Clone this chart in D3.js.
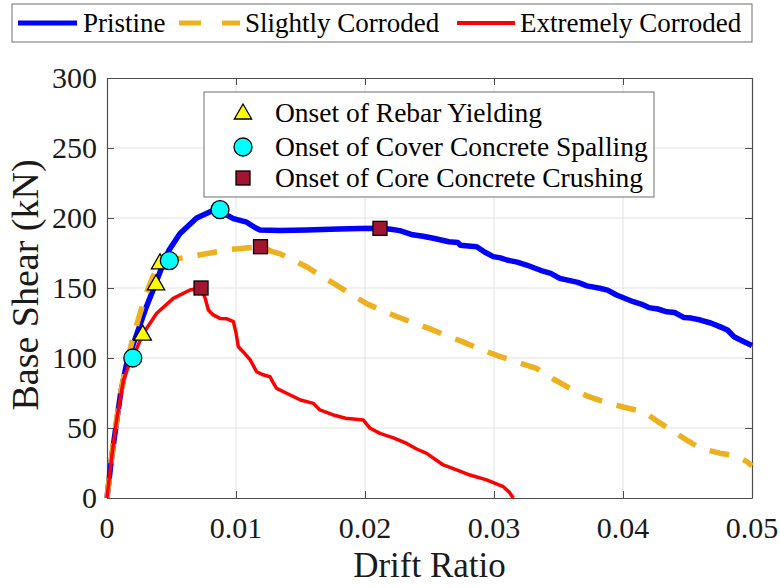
<!DOCTYPE html>
<html>
<head>
<meta charset="utf-8">
<script src="https://cdn.jsdelivr.net/npm/d3@7"></script>
<style>
  html, body { margin: 0; padding: 0; background: #fff; }
  svg { display: block; font-family: "Liberation Serif", "Times New Roman", serif; }
</style>
</head>
<body>
<svg id="chart" width="780" height="588"></svg>
<script>
// ---------- data ----------
const xTicks = [0, 0.01, 0.02, 0.03, 0.04, 0.05];
const xTickLabels = ["0", "0.01", "0.02", "0.03", "0.04", "0.05"];
const yTicks = [0, 50, 100, 150, 200, 250, 300];
const yTickLabels = ["0", "50", "100", "150", "200", "250", "300"];

const seriesNames = ["Pristine", "Slightly Corroded", "Extremely Corroded"];

const pristineDrift = [0, 0.00035, 0.00075, 0.00106, 0.0015, 0.00204, 0.0025, 0.00307, 0.0038, 0.0043, 0.0048, 0.00566, 0.00695, 0.0080, 0.00876, 0.0093, 0.0098, 0.01083, 0.0115, 0.01186, 0.0134, 0.0155, 0.0173, 0.0195, 0.02116, 0.0220, 0.0227, 0.0237, 0.0245, 0.0253, 0.0265, 0.0272, 0.0274, 0.0280, 0.02866, 0.0293, 0.02995, 0.0305, 0.0310, 0.0318, 0.03253, 0.0338, 0.0344, 0.0351, 0.0365, 0.0372, 0.0382, 0.0388, 0.0395, 0.0408, 0.0414, 0.0420, 0.0427, 0.0434, 0.0440, 0.0447, 0.0453, 0.0460, 0.0468, 0.0475, 0.0481, 0.0486, 0.0493, 0.0500];
const pristineShear = [0, 28, 55, 75, 95, 110, 122, 137, 154, 166, 177, 189, 200, 204.5, 206, 202, 199.5, 197, 193, 191.4, 191, 191.5, 192, 192.5, 192.6, 192, 191, 188, 187, 185.5, 183, 182.5, 180.5, 180, 179.5, 175.5, 172.4, 171.5, 170, 168.5, 166.4, 162, 160.5, 156.9, 154, 151.5, 149.8, 148.5, 145, 140.2, 138.5, 136, 135, 133, 132.5, 129, 128.5, 127.1, 125, 122.4, 120, 115.2, 112, 109];

const slightDrift = [0, 0.0005, 0.001, 0.0015, 0.002, 0.0025, 0.003, 0.0035, 0.0041, 0.0048, 0.0062, 0.0080, 0.0095, 0.0119, 0.0128, 0.0134, 0.0142, 0.0155, 0.0167, 0.0178, 0.0190, 0.0201, 0.0213, 0.0225, 0.0238, 0.0250, 0.0263, 0.0276, 0.0290, 0.0305, 0.0318, 0.0333, 0.0346, 0.0359, 0.0372, 0.0385, 0.0400, 0.0416, 0.0428, 0.0439, 0.0450, 0.0460, 0.0475, 0.0488, 0.0496, 0.0500];
const slightShear = [0, 40, 72, 96, 114, 130, 145, 157, 167, 170, 172, 175, 177.5, 179.5, 176, 174.5, 171, 165, 158, 152, 145, 139, 134, 129.5, 125, 121, 116, 111.5, 106, 101, 97, 92.6, 85, 78.3, 73, 68.8, 65, 61.6, 54, 47.4, 41, 35.5, 32, 30, 26, 23];

const extremeDrift = [0, 0.0004, 0.00075, 0.00127, 0.0017, 0.002, 0.00277, 0.00385, 0.00514, 0.00643, 0.00729, 0.0076, 0.00786, 0.0082, 0.00876, 0.0093, 0.0098, 0.0100, 0.01018, 0.0107, 0.0111, 0.0116, 0.0121, 0.01264, 0.0129, 0.01315, 0.0142, 0.0150, 0.0160, 0.0165, 0.01754, 0.0185, 0.01987, 0.0204, 0.02116, 0.0222, 0.02323, 0.0240, 0.02478, 0.02607, 0.0270, 0.02814, 0.02943, 0.03072, 0.0312, 0.0315];
const extremeShear = [0, 32, 56, 84, 95, 100, 117, 132, 142.6, 148.6, 150, 143, 134.3, 131, 128.3, 128, 126, 118, 108, 103, 98.6, 90.2, 88, 86.6, 82, 78.3, 73.6, 70, 67.6, 62.9, 59.3, 57, 55.7, 49.8, 46.2, 43, 39, 35, 31.9, 23.6, 20.5, 16.4, 12.9, 8.1, 4, 0];

// damage-state markers, one per series (Pristine, Slightly, Extremely)
const markerNames = ["Onset of Rebar Yielding", "Onset of Cover Concrete Spalling", "Onset of Core Concrete Crushing"];
const yieldDrift = [0.0038, 0.00411, 0.00277];
const yieldShear = [153, 168, 117];
const spallDrift = [0.00876, 0.00483, 0.002];
const spallShear = [206, 169.5, 100];
const crushDrift = [0.02116, 0.0119, 0.00729];
const crushShear = [192.6, 179.5, 150];

// ---------- layout ----------
const svg = d3.select("#chart");
const L = 107, R = 752, T = 78, B = 498;
const x = d3.scaleLinear().domain([0, 0.05]).range([L, R]);
const y = d3.scaleLinear().domain([0, 300]).range([B, T]);

const axisColor = "#4d4d4d";
const gridColor = "#e3e3e3";

// grid
const grid = svg.append("g");
grid.selectAll(".gx").data(xTicks.slice(1, -1)).enter().append("line")
  .attr("x1", d => x(d)).attr("x2", d => x(d)).attr("y1", T).attr("y2", B)
  .attr("stroke", gridColor).attr("stroke-width", 1);
grid.selectAll(".gy").data(yTicks.slice(1, -1)).enter().append("line")
  .attr("y1", d => y(d)).attr("y2", d => y(d)).attr("x1", L).attr("x2", R)
  .attr("stroke", gridColor).attr("stroke-width", 1);

// axes (ticks inward, box on)
function styleAxis(g) {
  g.selectAll("path.domain").attr("stroke", axisColor).attr("stroke-width", 1.2);
  g.selectAll(".tick line").attr("stroke", axisColor).attr("stroke-width", 1);
  g.selectAll(".tick text").remove();
}
const tk = 7;
svg.append("g").attr("transform", `translate(0,${B})`)
  .call(d3.axisBottom(x).tickValues(xTicks).tickSize(-tk).tickSizeOuter(0)).call(styleAxis);
svg.append("g").attr("transform", `translate(0,${T})`)
  .call(d3.axisTop(x).tickValues(xTicks).tickSize(-tk).tickSizeOuter(0)).call(styleAxis);
svg.append("g").attr("transform", `translate(${L},0)`)
  .call(d3.axisLeft(y).tickValues(yTicks).tickSize(-tk).tickSizeOuter(0)).call(styleAxis);
svg.append("g").attr("transform", `translate(${R},0)`)
  .call(d3.axisRight(y).tickValues(yTicks).tickSize(-tk).tickSizeOuter(0)).call(styleAxis);

// tick labels
svg.append("g").selectAll("text").data(xTicks).enter().append("text")
  .attr("x", d => x(d)).attr("y", 538)
  .attr("text-anchor", "middle").attr("font-size", 30).attr("fill", "#1a1a1a")
  .text((d, i) => xTickLabels[i]);
svg.append("g").selectAll("text").data(yTicks).enter().append("text")
  .attr("x", 97).attr("y", d => y(d)).attr("dy", "0.34em")
  .attr("text-anchor", "end").attr("font-size", 30).attr("fill", "#1a1a1a")
  .text((d, i) => yTickLabels[i]);

// axis labels
svg.append("text").attr("x", (L + R) / 2).attr("y", 577)
  .attr("text-anchor", "middle").attr("font-size", 35).attr("fill", "#1a1a1a")
  .text("Drift Ratio");
svg.append("text").attr("transform", `translate(38,285) rotate(-90)`)
  .attr("text-anchor", "middle").attr("font-size", 38).attr("fill", "#1a1a1a")
  .text("Base Shear (kN)");

// curves
const line = d3.line().x(d => x(d[0])).y(d => y(d[1]));
const zip = (a, b) => a.map((v, i) => [v, b[i]]);
const plot = svg.append("g");
plot.append("path").datum(zip(pristineDrift, pristineShear)).attr("d", line)
  .attr("fill", "none").attr("stroke", "#0000ff").attr("stroke-width", 5.5)
  .attr("stroke-linejoin", "round");
plot.append("path").datum(zip(slightDrift, slightShear)).attr("d", line)
  .attr("fill", "none").attr("stroke", "#edb120").attr("stroke-width", 5.5)
  .attr("stroke-dasharray", "20,15").attr("stroke-linejoin", "round");
plot.append("path").datum(zip(extremeDrift, extremeShear)).attr("d", line)
  .attr("fill", "none").attr("stroke", "#ff0000").attr("stroke-width", 3.5)
  .attr("stroke-linejoin", "round");

// markers
const tri = d3.symbol().type(d3.symbolTriangle).size(130);
const mk = svg.append("g");
mk.selectAll(".tri").data(zip(yieldDrift, yieldShear)).enter().append("path")
  .attr("d", tri).attr("transform", d => `translate(${x(d[0])},${y(d[1]) + 1})`)
  .attr("fill", "#ffff00").attr("stroke", "#000").attr("stroke-width", 1.3);
mk.selectAll(".cir").data(zip(spallDrift, spallShear)).enter().append("circle")
  .attr("cx", d => x(d[0])).attr("cy", d => y(d[1])).attr("r", 9)
  .attr("fill", "#00ffff").attr("stroke", "#000").attr("stroke-width", 1.3);
mk.selectAll(".sq").data(zip(crushDrift, crushShear)).enter().append("rect")
  .attr("x", d => x(d[0]) - 7).attr("y", d => y(d[1]) - 7).attr("width", 14).attr("height", 14)
  .attr("fill", "#a2142f").attr("stroke", "#000").attr("stroke-width", 1.3);

// marker legend
const ml = svg.append("g");
ml.append("rect").attr("x", 204).attr("y", 92).attr("width", 450).attr("height", 105)
  .attr("fill", "#fff").attr("stroke", "#6e6e6e").attr("stroke-width", 1);
const mlY = [113, 147, 178];
ml.append("path").attr("d", tri).attr("transform", `translate(243,${mlY[0] + 1})`)
  .attr("fill", "#ffff00").attr("stroke", "#000").attr("stroke-width", 1.3);
ml.append("circle").attr("cx", 243).attr("cy", mlY[1]).attr("r", 9)
  .attr("fill", "#00ffff").attr("stroke", "#000").attr("stroke-width", 1.3);
ml.append("rect").attr("x", 236).attr("y", mlY[2] - 7).attr("width", 14).attr("height", 14)
  .attr("fill", "#a2142f").attr("stroke", "#000").attr("stroke-width", 1.3);
ml.selectAll("text").data(markerNames).enter().append("text")
  .attr("x", 275).attr("y", (d, i) => mlY[i] + 9)
  .attr("font-size", 27.5).attr("fill", "#000").text(d => d);

// top legend
const lg = svg.append("g");
lg.append("rect").attr("x", 12).attr("y", 4).attr("width", 740).attr("height", 38)
  .attr("fill", "#fff").attr("stroke", "#6e6e6e").attr("stroke-width", 1);
const ly = 23;
lg.append("line").attr("x1", 18).attr("x2", 77).attr("y1", ly).attr("y2", ly)
  .attr("stroke", "#0000ff").attr("stroke-width", 5);
lg.append("line").attr("x1", 179).attr("x2", 240).attr("y1", ly).attr("y2", ly)
  .attr("stroke", "#edb120").attr("stroke-width", 5).attr("stroke-dasharray", "22,21");
lg.append("line").attr("x1", 457).attr("x2", 515).attr("y1", ly).attr("y2", ly)
  .attr("stroke", "#ff0000").attr("stroke-width", 4);
const legX = [83, 245, 520];
lg.selectAll("text").data(seriesNames).enter().append("text")
  .attr("x", (d, i) => legX[i]).attr("y", 32)
  .attr("font-size", 27).attr("fill", "#000").text(d => d);
</script>
</body>
</html>
